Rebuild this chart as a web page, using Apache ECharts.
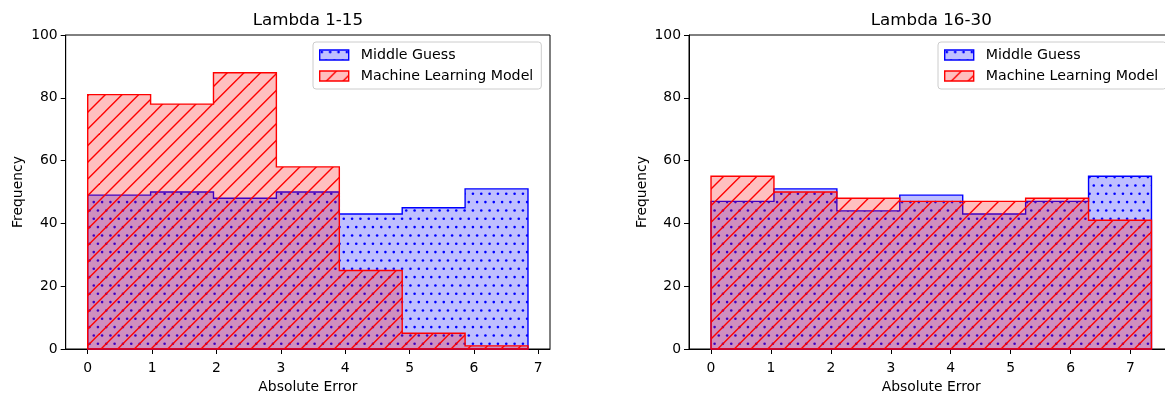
<!DOCTYPE html>
<html><head><meta charset="utf-8">
<script src="https://cdn.jsdelivr.net/npm/echarts@6/dist/echarts.min.js"></script>
<style>html,body{margin:0;padding:0;background:#fff;overflow:hidden}#c{width:1185px;height:394px}</style>
</head><body><div id="c"></div>
<script>
// ---- data ----
const titles = ['Lambda 1-15', 'Lambda 16-30'];
const seriesNames = ['Middle Guess', 'Machine Learning Model'];
const xAxisName = 'Absolute Error';
const yAxisName = 'Frequency';
// histogram bin edges (7 equal bins from 0 to the panel's max absolute error)
const edges1 = [0, 0.977, 1.954, 2.931, 3.909, 4.886, 5.863, 6.84];
const edges2 = [0, 1.05, 2.10, 3.15, 4.20, 5.25, 6.30, 7.35];
const middleGuess1 = [49, 50, 48, 50, 43, 45, 51];
const mlModel1     = [81, 78, 88, 58, 25, 5, 1];
const middleGuess2 = [47, 51, 44, 49, 43, 47, 55];
const mlModel2     = [55, 50, 48, 47, 47, 48, 41];
const xTicks = [0, 1, 2, 3, 4, 5, 6, 7];
const yTicks = [0, 20, 40, 60, 80, 100];

// ---- styles ----
const FONT = 'DejaVu Sans';
const BLUE = '#0000ff', RED = '#ff0000';
const BLUE_FILL = 'rgba(0,0,255,0.25)', RED_FILL = 'rgba(255,0,0,0.25)';

function dotTile() {
  const c = document.createElement('canvas');
  c.width = 50; c.height = 50;
  const g = c.getContext('2d');
  g.fillStyle = BLUE_FILL; g.fillRect(0, 0, 50, 50);
  g.fillStyle = BLUE;
  const s = 50 / 6;
  for (let r = 0; r < 6; r++) {
    for (let k = 0; k < 6; k++) {
      const x = k * s + (r % 2 ? s / 2 : 0) + 2.1;
      const y = r * s + 2.1;
      g.beginPath(); g.arc(x, y, 1.3, 0, Math.PI * 2); g.fill();
    }
  }
  return { image: c, repeat: 'repeat' };
}
function lineTile() {
  const c = document.createElement('canvas');
  c.width = 50; c.height = 50;
  const g = c.getContext('2d');
  g.fillStyle = RED_FILL; g.fillRect(0, 0, 50, 50);
  g.strokeStyle = RED; g.lineWidth = 1.4;
  const s = 50 / 3;
  for (let k = -1; k <= 7; k++) {
    const c0 = k * s;
    g.beginPath(); g.moveTo(c0 + 5, -5); g.lineTo(c0 - 55, 55); g.stroke();
  }
  return { image: c, repeat: 'repeat' };
}
const dotPattern = dotTile();
const linePattern = lineTile();

function histSeries(name, edges, counts, idx, pattern, edgeColor) {
  return {
    type: 'custom', name: name, xAxisIndex: idx, yAxisIndex: idx,
    itemStyle: { color: pattern, borderColor: edgeColor },
    data: counts.map((c, i) => [edges[i], edges[i + 1], c]),
    renderItem: function (params, api) {
      if (params.dataIndexInside !== 0) return null;
      const n = params.dataInsideLength;
      const pts = [api.coord([api.value(0, 0), 0])];
      for (let i = 0; i < n; i++) {
        pts.push(api.coord([api.value(0, i), api.value(2, i)]));
        pts.push(api.coord([api.value(1, i), api.value(2, i)]));
      }
      pts.push(api.coord([api.value(1, n - 1), 0]));
      return {
        type: 'polygon',
        shape: { points: pts },
        style: { fill: pattern, stroke: edgeColor, lineWidth: 1.4, lineJoin: 'miter' }
      };
    }
  };
}

const grids = [
  { left: 65.7, top: 35, width: 484.3, height: 314 },
  { left: 689, top: 35, width: 484.5, height: 314 }
];
const allEdges = [edges1, edges2];

const option = {
  animation: false,
  textStyle: { fontFamily: FONT },
  title: titles.map((t, i) => ({
    text: t, left: grids[i].left + grids[i].width / 2, top: 12, textAlign: 'center', padding: 0,
    textStyle: { fontFamily: FONT, fontSize: 16.7, fontWeight: 'normal', color: '#000' }
  })),
  legend: [313, 938].map(l => ({
    orient: 'vertical', left: l, top: 42, padding: [5, 8, 5, 6], itemGap: 5,
    itemWidth: 29, itemHeight: 10, icon: 'rect',
    backgroundColor: 'rgba(255,255,255,0.8)', borderColor: '#cccccc', borderWidth: 1, borderRadius: 3,
    textStyle: { fontFamily: FONT, fontSize: 14.2, color: '#000', padding: [0, 0, 0, 7], lineHeight: 16 },
    selectedMode: false,
    data: [
      { name: seriesNames[0], itemStyle: { color: dotPattern, borderColor: BLUE, borderWidth: 1.4 } },
      { name: seriesNames[1], itemStyle: { color: linePattern, borderColor: RED, borderWidth: 1.4 } }
    ]
  })),
  grid: grids.map(g => Object.assign({ show: true, borderColor: '#000', borderWidth: 1, backgroundColor: 'transparent', containLabel: false, outerBoundsMode: 'none' }, g)),
  xAxis: allEdges.map((e, i) => {
    const mx = e[e.length - 1];
    return {
      type: 'value', gridIndex: i, min: -0.05 * mx, max: mx * 1.05,
      name: xAxisName, nameLocation: 'middle', nameGap: 29,
      nameTextStyle: { fontFamily: FONT, fontSize: 13.9, color: '#000' },
      axisLine: { show: true, onZero: false, lineStyle: { color: '#000', width: 1 } },
      axisTick: { show: true, length: 5, customValues: xTicks, lineStyle: { color: '#000', width: 1 } },
      axisLabel: { customValues: xTicks, margin: 12, fontFamily: FONT, fontSize: 13.9, color: '#000' },
      splitLine: { show: false }
    };
  }),
  yAxis: grids.map((g, i) => ({
    type: 'value', gridIndex: i, min: yTicks[0], max: yTicks[yTicks.length - 1], interval: 20,
    name: yAxisName, nameLocation: 'middle', nameGap: 40, nameRotate: 90,
    nameTextStyle: { fontFamily: FONT, fontSize: 13.9, color: '#000' },
    axisLine: { show: true, onZero: false, lineStyle: { color: '#000', width: 1 } },
    axisTick: { show: true, length: 5, lineStyle: { color: '#000', width: 1 } },
    axisLabel: { margin: 8, fontFamily: FONT, fontSize: 13.9, color: '#000' },
    splitLine: { show: false }
  })),
  series: [
    histSeries(seriesNames[0], edges1, middleGuess1, 0, dotPattern, BLUE),
    histSeries(seriesNames[1], edges1, mlModel1, 0, linePattern, RED),
    histSeries(seriesNames[0], edges2, middleGuess2, 1, dotPattern, BLUE),
    histSeries(seriesNames[1], edges2, mlModel2, 1, linePattern, RED)
  ]
};
const chart = echarts.init(document.getElementById('c'), null, { renderer: 'canvas' });
chart.setOption(option);
</script>
</body></html>
